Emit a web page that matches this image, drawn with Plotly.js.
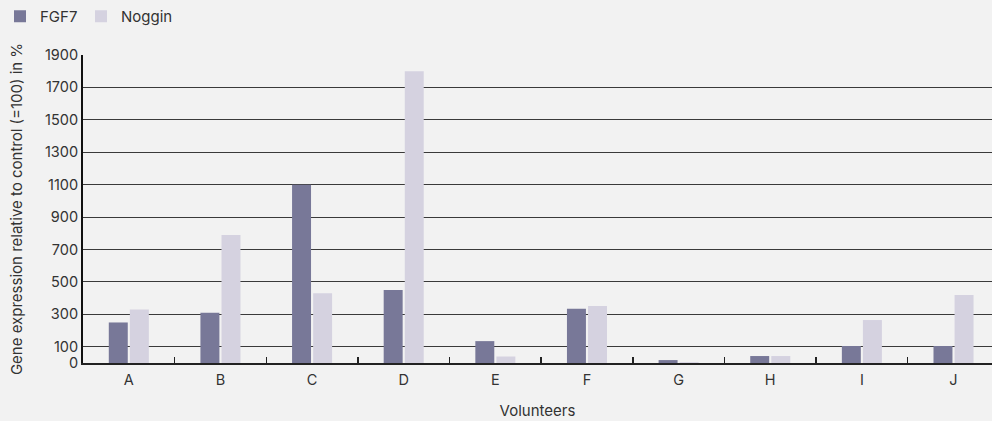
<!DOCTYPE html>
<html>
<head>
<meta charset="utf-8">
<script src="https://cdn.plot.ly/plotly-3.0.1.min.js"></script>
<style>html,body{margin:0;padding:0;background:#f2f2f2;}#chart{width:992px;height:421px;}</style>
</head>
<body>
<div id="chart"></div>
<script>
const volunteers = ["A","B","C","D","E","F","G","H","I","J"];
const fgf7 = [250, 310, 1100, 450, 135, 335, 18, 43, 105, 105];
const noggin = [330, 790, 430, 1800, 40, 352, 5, 43, 265, 420];
const yTicks = [0, 100, 300, 500, 700, 900, 1100, 1300, 1500, 1700, 1900];

const fam = "Inter, Lato, sans-serif";
const tickFont = {family: fam, size: 14.5, color: "#333333"};
const titleFont = {family: fam, size: 15, color: "#333333"};

const data = [
  {type: "bar", name: "FGF7", x: volunteers, y: fgf7, marker: {color: "#787898"}, legend: "legend"},
  {type: "bar", name: "Noggin", x: volunteers, y: noggin, marker: {color: "#d5d2e0"}, legend: "legend2"}
];

const legendBase = {orientation: "h", y: 1, xref: "paper", yref: "container", xanchor: "left", yanchor: "top",
                    bgcolor: "rgba(0,0,0,0)", font: titleFont, itemwidth: 30};

const layout = {
  width: 992, height: 421,
  paper_bgcolor: "#f2f2f2", plot_bgcolor: "#f2f2f2",
  font: tickFont,
  margin: {l: 83, r: 0, t: 55, b: 58},
  barmode: "group", bargap: 0.54, bargroupgap: 0.1,
  showlegend: true,
  legend: Object.assign({}, legendBase, {x: -0.1012}),
  legend2: Object.assign({}, legendBase, {x: -0.0022}),
  xaxis: {
    type: "category", range: [-0.5, 9.42],
    showline: true, linecolor: "#222222", linewidth: 1.5,
    ticks: "inside", tickson: "boundaries", ticklen: 6, tickwidth: 1.5, tickcolor: "#222222",
    showgrid: false, zeroline: false,
    tickfont: tickFont, ticklabelstandoff: 3,
    title: {text: "Volunteers", font: titleFont, standoff: 18}
  },
  yaxis: {
    range: [0, 1900], tickvals: yTicks, ticktext: yTicks.map(String),
    showline: true, linecolor: "#111111", linewidth: 2,
    ticks: "", showgrid: true, gridcolor: "#3a3a3a", gridwidth: 1, zeroline: false,
    tickfont: tickFont,
    title: {text: "Gene expression relative to control (=100) in %", font: titleFont, standoff: 19}
  }
};

Plotly.newPlot("chart", data, layout, {displayModeBar: false, staticPlot: true});
</script>
</body>
</html>
